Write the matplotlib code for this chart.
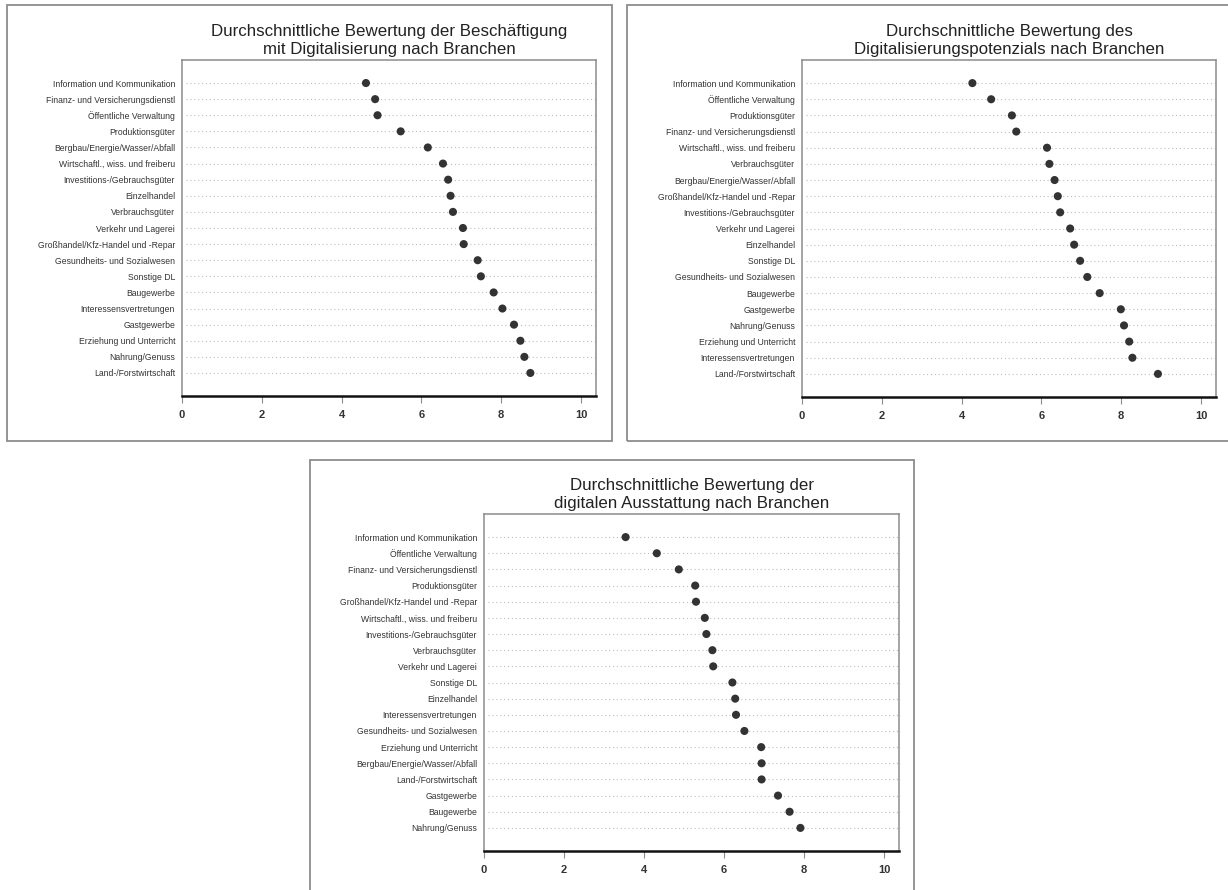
import numpy as np
import matplotlib
matplotlib.use("Agg")
import matplotlib.pyplot as plt
from matplotlib.patches import Rectangle

plt.rcParams['font.family'] = ['Liberation Sans', 'DejaVu Sans']

# Panel 1: Beschaeftigung mit Digitalisierung
branchen_1 = ["Information und Kommunikation", "Finanz- und Versicherungsdienstl",
              "Öffentliche Verwaltung", "Produktionsgüter", "Bergbau/Energie/Wasser/Abfall",
              "Wirtschaftl., wiss. und freiberu", "Investitions-/Gebrauchsgüter",
              "Einzelhandel", "Verbrauchsgüter", "Verkehr und Lagerei",
              "Großhandel/Kfz-Handel und -Repar", "Gesundheits- und Sozialwesen",
              "Sonstige DL", "Baugewerbe", "Interessensvertretungen", "Gastgewerbe",
              "Erziehung und Unterricht", "Nahrung/Genuss", "Land-/Forstwirtschaft"]
werte_1 = [4.61, 4.84, 4.90, 5.48, 6.16, 6.54, 6.67, 6.73, 6.79, 7.04,
           7.06, 7.41, 7.49, 7.81, 8.03, 8.32, 8.48, 8.58, 8.73]

# Panel 2: Digitalisierungspotenzial
branchen_2 = ["Information und Kommunikation", "Öffentliche Verwaltung", "Produktionsgüter",
              "Finanz- und Versicherungsdienstl", "Wirtschaftl., wiss. und freiberu",
              "Verbrauchsgüter", "Bergbau/Energie/Wasser/Abfall",
              "Großhandel/Kfz-Handel und -Repar", "Investitions-/Gebrauchsgüter",
              "Verkehr und Lagerei", "Einzelhandel", "Sonstige DL",
              "Gesundheits- und Sozialwesen", "Baugewerbe", "Gastgewerbe",
              "Nahrung/Genuss", "Erziehung und Unterricht", "Interessensvertretungen",
              "Land-/Forstwirtschaft"]
werte_2 = [4.27, 4.74, 5.26, 5.37, 6.14, 6.20, 6.33, 6.41, 6.47, 6.72,
           6.82, 6.97, 7.15, 7.46, 7.99, 8.07, 8.20, 8.28, 8.92]

# Panel 3: digitale Ausstattung
branchen_3 = ["Information und Kommunikation", "Öffentliche Verwaltung",
              "Finanz- und Versicherungsdienstl", "Produktionsgüter",
              "Großhandel/Kfz-Handel und -Repar", "Wirtschaftl., wiss. und freiberu",
              "Investitions-/Gebrauchsgüter", "Verbrauchsgüter", "Verkehr und Lagerei",
              "Sonstige DL", "Einzelhandel", "Interessensvertretungen",
              "Gesundheits- und Sozialwesen", "Erziehung und Unterricht",
              "Bergbau/Energie/Wasser/Abfall", "Land-/Forstwirtschaft", "Gastgewerbe",
              "Baugewerbe", "Nahrung/Genuss"]
werte_3 = [3.54, 4.32, 4.87, 5.28, 5.30, 5.52, 5.56, 5.71, 5.73, 6.21,
           6.28, 6.30, 6.51, 6.93, 6.94, 6.94, 7.35, 7.64, 7.91]

titel = ["Durchschnittliche Bewertung der Beschäftigung\nmit Digitalisierung nach Branchen",
         "Durchschnittliche Bewertung des\nDigitalisierungspotenzials nach Branchen",
         "Durchschnittliche Bewertung der\ndigitalen Ausstattung nach Branchen"]
xticks = [0, 2, 4, 6, 8, 10]

W, H = 1228, 890
fig = plt.figure(figsize=(W / 100, H / 100), dpi=100)
fig.patch.set_facecolor("white")


def px_rect(x0, y0, x1, y1):
    # pixel box (y from top) -> figure fraction
    return [x0 / W, 1 - y1 / H, (x1 - x0) / W, (y1 - y0) / H]


# grey frames around each picture
for (x0, y0, x1, y1) in [(7, 5, 612, 441), (627, 5, 1240, 441), (310, 460, 914, 900)]:
    fig.patches.append(Rectangle((x0 / W, 1 - y1 / H), (x1 - x0) / W, (y1 - y0) / H,
                                 transform=fig.transFigure, fill=False,
                                 edgecolor="#8c8c8c", linewidth=1.3))

axes_px = [(182, 60, 596, 396), (802, 60, 1216, 397), (484, 514, 899, 851)]
daten = [(branchen_1, werte_1), (branchen_2, werte_2), (branchen_3, werte_3)]

for (box, (labels, werte), t) in zip(axes_px, daten, titel):
    ax = fig.add_axes(px_rect(*box))
    y = np.arange(len(labels))
    ax.hlines(y, 0.1, 10.375, colors="#bdbdbd", linestyles=(0, (1, 2.5)), linewidth=0.8, zorder=1)
    ax.scatter(werte, y, s=34, color="#333333", zorder=3, edgecolors="none")
    ax.set_xlim(0, 10.375)
    ax.set_ylim(len(labels) - 1 + 1.43, -1.43)
    ax.set_yticks(y)
    ax.set_yticklabels(labels, fontsize=6.2, color="#333333")
    ax.tick_params(axis="y", length=0, pad=5)
    ax.set_xticks(xticks)
    ax.set_xticklabels([str(v) for v in xticks], fontsize=8, color="#333333", fontweight="bold")
    ax.tick_params(axis="x", length=5, width=0.8, color="#8c8c8c", pad=5)
    for s in ["left", "top", "right"]:
        ax.spines[s].set_color("#8c8c8c")
        ax.spines[s].set_linewidth(1.1)
    ax.spines["bottom"].set_color("#111111")
    ax.spines["bottom"].set_linewidth(1.8)
    ax.set_title(t, fontsize=12.2, color="#222222", pad=4.5, linespacing=1.2)

fig.savefig("out.png", dpi=100, facecolor="white")
